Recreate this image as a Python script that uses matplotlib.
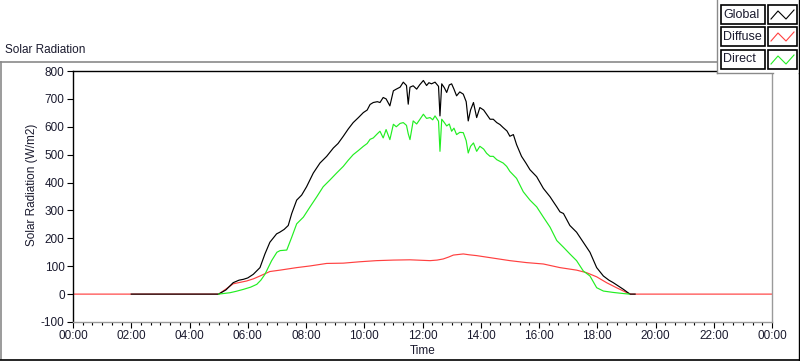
import numpy as np
import matplotlib
matplotlib.use("Agg")
import matplotlib.pyplot as plt
from matplotlib.lines import Line2D
from matplotlib.patches import Rectangle

plt.rcParams["font.family"] = ["Liberation Sans", "DejaVu Sans"]
plt.rcParams["axes.unicode_minus"] = False

# ---------------- data (hours of day, W/m2) ----------------
global_t = [2.0, 5.0, 5.25, 5.5, 5.7, 5.85, 6.0, 6.19, 6.42, 6.59, 6.76, 6.99, 7.1, 7.25,
            7.39, 7.51, 7.68, 7.85, 8.02, 8.25, 8.48, 8.71, 8.94, 9.1, 9.28, 9.45, 9.62,
            9.8, 9.97, 10.1, 10.2, 10.31, 10.45, 10.54, 10.65, 10.75, 10.88, 11.0, 11.1,
            11.23, 11.34, 11.45, 11.51, 11.57, 11.68, 11.8, 11.9, 12.03, 12.14, 12.22,
            12.31, 12.43, 12.55, 12.6, 12.66, 12.75, 12.83, 12.92, 13.0, 13.08, 13.17,
            13.28, 13.4, 13.5, 13.57, 13.65, 13.75, 13.86, 13.97, 14.1, 14.2, 14.32,
            14.43, 14.55, 14.66, 14.77, 14.9, 15.0, 15.12, 15.23, 15.4, 15.55, 15.69,
            15.92, 16.15, 16.38, 16.5, 16.61, 16.72, 16.84, 17.06, 17.29, 17.52, 17.75,
            17.98, 18.21, 18.4, 18.55, 18.9, 19.12, 19.3]
global_v = [0, 0, 15, 41, 50, 53, 58, 71, 95, 144, 186, 216, 222, 232,
            246, 289, 337, 355, 385, 434, 470, 494, 524, 540, 566, 592, 615,
            633, 651, 660, 680, 687, 690, 687, 705, 700, 675, 729, 735,
            742, 760, 748, 681, 742, 747, 735, 750, 766, 748, 758,
            754, 760, 745, 639, 754, 740, 723, 750, 754, 735, 711,
            725, 717, 690, 621, 660, 687, 633, 669, 660, 645, 627,
            627, 615, 608, 597, 585, 566, 572, 536, 494, 470, 446,
            421, 379, 349, 330, 313, 295, 289, 246, 222, 186, 150,
            95, 65, 50, 41, 17, 0, 0]

diffuse_t = [0.0, 5.0, 5.25, 5.5, 5.96, 6.2, 6.42, 6.76, 7.11, 7.68, 8.14, 8.71, 9.28,
             9.85, 10.42, 11.0, 11.57, 12.26, 12.5, 12.71, 12.9, 13.06, 13.4, 13.6,
             13.86, 14.43, 15.0, 15.57, 16.15, 16.72, 17.29, 17.63, 17.98, 18.32,
             18.66, 19.0, 19.15, 24.0]
diffuse_v = [0, 0, 18, 37, 47, 55, 65, 81, 86, 95, 101, 110, 111,
             116, 120, 122, 123, 120, 122, 126, 133, 140, 144, 141,
             138, 129, 120, 113, 108, 95, 86, 77, 62, 41,
             23, 6, 0, 0]

direct_t = [5.0, 5.39, 5.6, 5.85, 6.1, 6.31, 6.45, 6.59, 6.82, 7.0, 7.11, 7.34, 7.51,
            7.68, 7.91, 8.14, 8.37, 8.59, 8.82, 9.05, 9.28, 9.45, 9.62, 9.8, 9.97,
            10.1, 10.2, 10.31, 10.45, 10.54, 10.65, 10.75, 10.88, 11.0, 11.1, 11.23,
            11.34, 11.45, 11.51, 11.57, 11.68, 11.8, 11.9, 12.03, 12.14, 12.26, 12.35,
            12.43, 12.55, 12.6, 12.66, 12.75, 12.83, 12.92, 13.0, 13.08, 13.17, 13.28,
            13.4, 13.5, 13.57, 13.65, 13.75, 13.86, 13.97, 14.1, 14.2, 14.32, 14.43,
            14.55, 14.77, 14.89, 15.0, 15.23, 15.46, 15.69, 15.92, 16.15, 16.38, 16.61,
            16.84, 17.06, 17.29, 17.52, 17.75, 17.98, 18.21, 18.55, 18.9, 19.1]
direct_v = [0, 5, 10, 17, 25, 35, 50, 71, 120, 150, 156, 158, 204,
            252, 276, 313, 349, 385, 409, 434, 458, 480, 500, 515, 530,
            540, 555, 560, 575, 584, 560, 590, 554, 609, 600, 612,
            615, 605, 575, 554, 621, 610, 625, 645, 630, 633, 625,
            639, 620, 512, 627, 615, 603, 610, 584, 595, 572, 580,
            579, 550, 506, 530, 542, 512, 530, 520, 505, 494, 494,
            482, 470, 458, 440, 415, 367, 337, 313, 276, 240, 192,
            168, 144, 120, 83, 65, 23, 11, 6, 2, 0]

series_names = ["Global", "Diffuse", "Direct"]
series_colors = ["#000000", "#ff4040", "#22ee22"]

x_tick_hours = [0, 2, 4, 6, 8, 10, 12, 14, 16, 18, 20, 22, 24]
x_tick_labels = ["00:00", "02:00", "04:00", "06:00", "08:00", "10:00", "12:00",
                 "14:00", "16:00", "18:00", "20:00", "22:00", "00:00"]
y_ticks = [-100, 0, 100, 200, 300, 400, 500, 600, 700, 800]

# ---------------- figure ----------------
W, H = 800, 361
fig = plt.figure(figsize=(W / 100, H / 100), dpi=100)
fig.patch.set_facecolor("white")


def fx(x):
    return x / W


def fy(y):
    return 1 - y / H


txt_col = "#1a1a2e"
fs = 8.5

ax_l, ax_r, ax_t, ax_b = 73, 772, 71, 322
ax = fig.add_axes([fx(ax_l), fy(ax_b), fx(ax_r) - fx(ax_l), fy(ax_t) - fy(ax_b)])
ax.set_xlim(0, 24)
ax.set_ylim(-100, 800)

ax.plot(diffuse_t, diffuse_v, color=series_colors[1], lw=0.85, zorder=2)
ax.plot(global_t, global_v, color=series_colors[0], lw=0.85, zorder=3)
ax.plot(direct_t, direct_v, color=series_colors[2], lw=0.85, zorder=4)

ax.set_xticks(x_tick_hours)
ax.set_xticklabels(x_tick_labels)
ax.set_xticks(np.arange(0, 24.01, 1 / 3), minor=True)
ax.set_yticks(y_ticks)
ax.tick_params(axis="both", which="major", direction="out", length=4, width=0.8,
               labelsize=fs, colors="black", labelcolor=txt_col, pad=2)
ax.tick_params(axis="x", which="minor", direction="out", length=2.2, width=0.8,
               colors="black")
ax.tick_params(axis="y", which="minor", left=False)

for s in ["top", "left"]:
    ax.spines[s].set_color("black")
    ax.spines[s].set_linewidth(1.0)
for s in ["bottom", "right"]:
    ax.spines[s].set_color("#9a9a9a")
    ax.spines[s].set_linewidth(1.0)

ax.set_xlabel("Time", fontsize=fs, color=txt_col)
ax.xaxis.set_label_coords(0.5, -(345 - ax_b) / (ax_b - ax_t))
ax.set_ylabel("Solar Radiation (W/m2)", fontsize=fs, color=txt_col)
ax.yaxis.set_label_coords(-(ax_l - 38) / (ax_r - ax_l), (ax_b - 185) / (ax_b - ax_t))

# title
fig.text(fx(5), fy(50), "Solar Radiation", fontsize=fs, color=txt_col,
         ha="left", va="center")

# outer frame
fig.add_artist(Line2D([fx(0), fx(717)], [fy(62), fy(62)], color="#8a8a8a", lw=1.2))
fig.add_artist(Line2D([fx(1), fx(1)], [fy(62), fy(359)], color="#8a8a8a", lw=1.2))
fig.add_artist(Line2D([fx(0), fx(800)], [fy(359.5), fy(359.5)], color="black", lw=1.2))
fig.add_artist(Line2D([fx(799.3), fx(799.3)], [fy(0), fy(359.5)], color="black", lw=1.0))

# legend panel
fig.add_artist(Rectangle((fx(717), fy(73)), fx(800) - fx(717), fy(0) - fy(73),
                         facecolor="white", edgecolor="none", zorder=5))
fig.add_artist(Line2D([fx(717), fx(717)], [fy(0), fy(73)], color="#8a8a8a", lw=1.0, zorder=6))
fig.add_artist(Line2D([fx(717), fx(773)], [fy(73), fy(73)], color="#8a8a8a", lw=1.0, zorder=6))
fig.add_artist(Line2D([fx(799.3), fx(799.3)], [fy(0), fy(73)], color="black", lw=1.0, zorder=6))

row_tops = [5, 27, 50]
for name, col, top in zip(series_names, series_colors, row_tops):
    h = 19
    fig.add_artist(Rectangle((fx(721), fy(top + h)), fx(765) - fx(721), fy(top) - fy(top + h),
                             facecolor="white", edgecolor="black", lw=1.2, zorder=7))
    fig.text(fx(723), fy(top + h / 2), name, fontsize=9, color=txt_col,
             ha="left", va="center", zorder=8)
    fig.add_artist(Rectangle((fx(768), fy(top + h)), fx(797) - fx(768), fy(top) - fy(top + h),
                             facecolor="white", edgecolor="black", lw=1.2, zorder=7))
    zx = [771, 778, 786, 794]
    zy = [top + 14, top + 6, top + 14, top + 5]
    fig.add_artist(Line2D([fx(v) for v in zx], [fy(v) for v in zy], color=col,
                          lw=0.8, zorder=8))

fig.savefig("out.png", dpi=100)
